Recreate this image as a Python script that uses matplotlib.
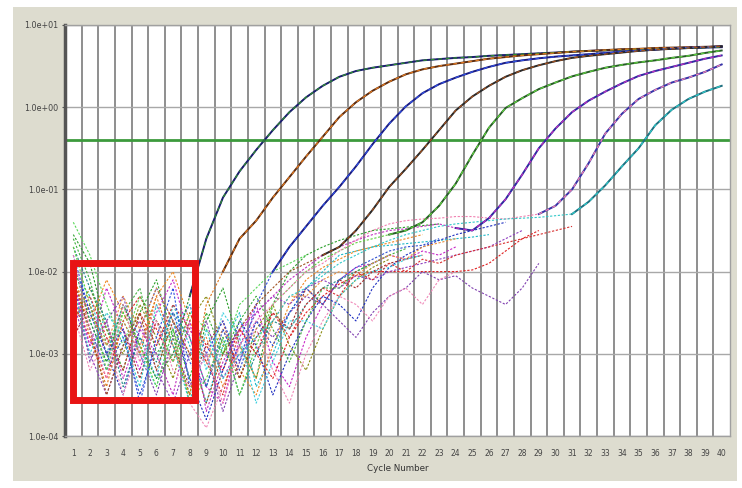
import numpy as np
import matplotlib
matplotlib.use("Agg")
import matplotlib.pyplot as plt
from matplotlib.patches import Rectangle
from matplotlib.ticker import NullLocator

nan = np.nan
cycles = np.arange(1, 41)

# log10(delta Rn) per cycle
amp1 = [-1.9, -2.6, -3.1, -2.4, -2.9, -3.3, -3.0, -2.3, -1.6, -1.1, -0.78, -0.52, -0.28, -0.06, 0.12, 0.26,
        0.37, 0.44, 0.48, 0.51, 0.54, 0.57, 0.585, 0.60, 0.61, 0.625, 0.635, 0.645, 0.655, 0.665, 0.675,
        0.685, 0.69, 0.70, 0.705, 0.71, 0.715, 0.72, 0.725, 0.73]
amp2 = [-2.0, -2.8, -3.4, -2.6, -3.0, -2.3, -2.9, -3.5, -2.4, -2.0, -1.6, -1.38, -1.1, -0.85, -0.6, -0.36,
        -0.12, 0.06, 0.2, 0.31, 0.40, 0.46, 0.50, 0.53, 0.56, 0.59, 0.61, 0.63, 0.645, 0.66, 0.675, 0.685,
        0.695, 0.705, 0.71, 0.72, 0.725, 0.73, 0.735, 0.74]
amp3 = [-1.8, -2.5, -3.0, -2.7, -3.6, -2.8, -2.2, -3.4, -3.0, -2.6, -3.1, -2.4, -2.0, -1.7, -1.45, -1.2,
        -0.97, -0.72, -0.45, -0.2, 0.01, 0.17, 0.28, 0.36, 0.43, 0.49, 0.54, 0.57, 0.595, 0.615, 0.63,
        0.645, 0.66, 0.675, 0.69, 0.70, 0.715, 0.725, 0.73, 0.74]
amp4 = [-2.1, -2.7, -3.5, -2.9, -2.5, -3.2, -2.6, -3.0, -3.6, -3.0, -2.7, -2.4, -2.2, -2.0, -1.9, -1.8,
        -1.7, -1.5, -1.25, -0.97, -0.75, -0.52, -0.28, -0.04, 0.13, 0.26, 0.37, 0.45, 0.51, 0.56, 0.60,
        0.625, 0.645, 0.665, 0.685, 0.70, 0.71, 0.72, 0.73, 0.74]
amp5 = [-1.7, -2.4, -3.2, -2.5, -2.9, -3.4, -2.7, -3.6, -3.3, -2.8, -3.5, -2.9, -2.4, -2.2, -2.0, -1.85,
        -1.75, -1.65, -1.6, -1.55, -1.5, -1.4, -1.2, -0.93, -0.58, -0.25, -0.01, 0.11, 0.22, 0.30, 0.375,
        0.43, 0.48, 0.515, 0.545, 0.57, 0.60, 0.625, 0.66, 0.69]
amp6 = [-2.1, -2.9, -2.6, -3.3, -2.7, -3.0, -3.5, -2.6, -3.7, -3.1, -2.7, -2.5, -2.3, -2.1, -1.95, -1.8,
        -1.7, -1.62, -1.55, -1.5, -1.48, -1.45, -1.42, -1.47, -1.5, -1.35, -1.12, -0.82, -0.5, -0.26,
        -0.06, 0.08, 0.19, 0.29, 0.38, 0.44, 0.49, 0.54, 0.59, 0.63]
amp7 = [-1.8, -2.7, -3.3, -2.4, -3.1, -2.6, -3.2, -3.4, -3.0, -3.6, -2.9, -2.6, -2.4, -2.2, -2.0, -1.9,
        -1.75, -1.62, -1.5, -1.42, -1.38, -1.36, -1.35, -1.33, -1.33, -1.35, -1.36, -1.33, -1.3, -1.2,
        -1.0, -0.68, -0.32, -0.08, 0.1, 0.21, 0.30, 0.36, 0.43, 0.52]
amp8 = [-2.2, -3.0, -2.5, -2.8, -3.4, -2.4, -2.9, -3.6, -2.7, -3.3, -3.0, -2.8, -2.6, -2.3, -2.2, -2.05,
        -1.9, -1.8, -1.7, -1.62, -1.55, -1.5, -1.45, -1.42, -1.4, -1.38, -1.36, -1.35, -1.34, -1.32,
        -1.3, -1.15, -0.95, -0.72, -0.5, -0.22, -0.03, 0.1, 0.19, 0.26]
amp_curves = [amp1, amp2, amp3, amp4, amp5, amp6, amp7, amp8]
liftoff = [8, 10, 13, 16, 20, 24, 29, 31]   # first cycle of the clean rising part

# baseline-only wells / replicates (log10 delta Rn), trailing cycles hidden in the bundle
noise = [
    [-1.55, -1.9, -2.7, -3.2, -2.5, -2.1, -2.8, -3.5, -2.6, -2.2, -2.9, -3.3, -2.4, -2.0, -1.8, -1.7,
     -1.62, -1.56, -1.5, -1.48, -1.46, -1.44, -1.42],
    [-2.0, -2.3, -3.0, -2.4, -2.8, -3.3, -2.4, -2.9, -3.6, -2.9, -2.5, -3.4, -3.0, -2.5, -2.2, -2.0,
     -1.8, -1.75, -1.7, -1.68, -1.66, -1.64, -1.62, -1.6, -1.58, -1.55],
    [-2.3, -2.9, -2.2, -2.7, -3.2, -2.5, -2.1, -2.8, -3.4, -3.6, -2.8, -2.4, -3.1, -3.4, -2.8, -2.4,
     -2.1, -1.95, -1.9, -1.8, -1.85, -1.75, -1.8, -1.7],
    [-2.4, -2.8, -3.3, -2.6, -2.3, -2.7, -3.1, -2.5, -2.9, -3.2, -2.7, -3.0, -3.3, -2.8, -2.5, -2.3,
     -2.15, -2.05, -2.0, -2.0, -2.0, -2.0, -2.0, -2.0, -1.98, -1.9, -1.75, -1.6, -1.5],
    [-2.2, -2.6, -2.1, -2.5, -2.9, -2.3, -2.0, -2.6, -3.1, -2.7, -3.2, -3.5, -2.9, -2.4, -2.1, -1.95,
     -1.85, -1.75, -1.7, -1.65, -1.6, -1.55],
    [-1.9, -2.5, -3.0, -3.5, -2.7, -2.2, -2.6, -3.3, -3.8, -3.2, -2.6, -2.9, -3.5, -3.0, -2.6, -2.3,
     -2.4, -2.6, -2.2, -1.95, -1.8, -1.7, -1.62, -1.55, -1.5, -1.45, -1.4],
    [-2.6, -2.2, -2.7, -3.0, -2.4, -2.8, -3.3, -2.6, -2.3, -2.9, -3.3, -2.7, -2.4, -2.9, -3.2, -2.7,
     -2.3, -2.1, -1.95, -1.85],
    [-2.1, -3.1, -2.6, -2.3, -3.0, -3.5, -2.8, -2.4, -3.0, -3.7, -3.1, -2.6, -2.8, -2.5, -2.3, -2.4,
     -2.6, -2.8, -2.5, -2.3, -2.2, -2.0, -2.1, -2.05, -2.2, -2.3, -2.4, -2.2, -1.9],
    [-1.4, -1.8, -2.4, -2.9, -2.3, -2.6, -3.1, -2.5, -2.7, -3.0, -2.4, -2.2, -2.0, -1.9, -1.8],
    [-2.5, -3.2, -2.8, -3.5, -2.9, -2.4, -2.7, -3.6, -3.9, -3.4, -3.0, -2.7, -3.2, -3.6, -3.0, -2.6,
     -2.3, -2.4, -2.6, -2.3, -2.2, -2.4, -2.1, -2.0],
    [-1.7, -2.2, -2.6, -3.4, -2.8, -3.1, -2.5, -2.8, -3.4, -2.8, -3.5, -3.0, -2.6, -2.7, -2.4, -2.2,
     -2.1, -2.0, -1.9, -1.8],
    [-2.8, -2.4, -3.0, -2.7, -3.3, -2.6, -2.9, -3.4, -2.9, -2.6, -3.3, -2.8, -2.5, -2.7, -2.2, -2.4,
     -2.1, -2.2, -2.0, -1.9, -1.85, -1.8],
    [-2.2, -2.7, -3.2, -2.8, -3.5, -2.9, -2.5, -3.1, -3.4, -2.7, -3.2, -2.6, -2.9, -2.5, -2.2, -2.4,
     -2.1, -1.95, -1.85, -1.75, -1.7, -1.68, -1.6],
    [-1.6, -2.1, -2.9, -2.5, -2.2, -3.0, -2.7, -3.3, -2.5, -3.0, -2.6, -2.3, -2.7, -3.1, -2.6, -2.2,
     -2.2, -2.0, -1.9, -1.8, -1.72],
    [-2.1, -2.5, -2.9, -2.3, -2.7, -2.2, -2.6, -3.0, -2.8, -3.4, -2.9, -3.3, -2.6, -2.3, -2.3, -2.1,
     -2.0, -2.05, -1.9, -1.8, -1.85, -1.7, -1.65, -1.6],
    [-1.9, -2.6, -3.1, -2.6, -3.0, -3.4, -2.7, -2.4, -3.2, -2.5, -2.8, -3.6, -3.1, -2.6, -2.6, -2.7,
     -2.3, -2.1, -2.0, -1.95, -1.85, -1.8],
    [-2.4, -3.0, -3.5, -2.9, -2.6, -3.2, -3.6, -3.0, -2.6, -3.3, -2.9, -2.5, -2.3, -2.4, -2.2, -2.1,
     -2.2, -2.05, -2.1, -2.0, -1.95, -1.9, -1.85, -1.8, -1.75, -1.7, -1.6, -1.5],
    [-2.6, -2.3, -2.8, -3.2, -2.5, -2.9, -2.4, -2.7, -3.1, -3.5, -2.7, -3.0, -2.5, -2.8, -2.4, -2.2,
     -2.3, -2.0, -2.1, -1.9, -2.0, -1.85, -1.9, -1.8, -1.75, -1.7, -1.65, -1.6, -1.55, -1.5, -1.45],
]
threshold = 0.4
ytick_vals = [1e-4, 1e-3, 1e-2, 1e-1, 1e0, 1e1]

noise_cols = ['#2ca02c', '#20b8c8', '#c828c8', '#e02020', '#f08a24', '#2030c0',
              '#8a8a10', '#8040b0', '#58d858', '#f088b8', '#208888', '#a02828',
              '#3050d0', '#40b040', '#e89040', '#40d0e0', '#9040c0', '#d83030']
dark_cols = ['#1c1c70', '#5a2c12', '#1c1c80', '#2a2a2a', '#285c28', '#2c2ca0', '#3434a8', '#1f6f7f']
light_cols = ['#2f8f2f', '#e07820', '#3050e0', '#a05020', '#60d040', '#c030c0', '#f080b0', '#30c8c8']


def pad(vals):
    return np.array(vals + [nan] * (len(cycles) - len(vals)))


fig = plt.figure(figsize=(7.42, 4.88), dpi=100)
fig.patch.set_facecolor('white')
panel = Rectangle((13 / 742, 7 / 488), 724 / 742, 474 / 488, transform=fig.transFigure,
                  facecolor='#dddccf', edgecolor='none', zorder=-5)
fig.add_artist(panel)

ax = fig.add_axes([65 / 742, 52 / 488, 665 / 742, 411 / 488])
ax.set_zorder(1)
ax.set_facecolor('white')
ax.set_yscale('log')
ax.set_ylim(1e-4, 1e1)
ax.set_xlim(0.5, 40.5)

# grid
ax.set_xticks(cycles)
ax.set_xticklabels([str(c) for c in cycles], fontsize=5.5, color='#444444')
ax.set_xticks(np.arange(1.5, 40.5, 1), minor=True)
ax.yaxis.set_minor_locator(NullLocator())
ax.set_yticks(ytick_vals)
ax.set_yticklabels([f"{v:.1e}" for v in ytick_vals], fontsize=5.8, color='#444444')
ax.tick_params(axis='x', which='both', length=0, pad=9)
ax.tick_params(axis='y', length=2, pad=3, color='#555555')
ax.grid(axis='x', which='minor', color='#8e8e8e', lw=1.4, zorder=1)
ax.grid(axis='y', which='major', color='#a8a8a8', lw=1.0, zorder=1)
ax.set_axisbelow(True)

for s in ['top', 'right', 'bottom']:
    ax.spines[s].set_color('#a0a0a0')
    ax.spines[s].set_linewidth(1.0)
ax.spines['left'].set_color('#555555')
ax.spines['left'].set_linewidth(2.5)

ax.axhline(threshold, color='#3c9a3c', lw=2.0, zorder=2)

# baseline wells
for vals, col in zip(noise, noise_cols):
    ax.plot(cycles, 10 ** pad(vals), color=col, lw=0.8, ls=(0, (2, 1.5)), zorder=3)

# amplification curves
for vals, dark, light, start in zip(amp_curves, dark_cols, light_cols, liftoff):
    y = 10 ** np.array(vals)
    ax.plot(cycles, y, color=light, lw=0.8, ls=(0, (2, 1.5)), zorder=3)
    ax.plot(cycles[start - 1:], y[start - 1:], color=dark, lw=1.4, zorder=4)
    ax.plot(cycles[start - 1:], y[start - 1:], color=light, lw=0.9, ls=(0, (3, 3)), zorder=5)

# highlighted baseline region
ax.add_patch(Rectangle((1.0, 10 ** -3.56), 7.33, 10 ** -1.895 - 10 ** -3.56, fill=False,
                       edgecolor='#e81414', lw=5, zorder=6))

ax.set_xlabel('Cycle Number', fontsize=6.3, color='#333333', labelpad=5)

fig.savefig('out.png', dpi=100)
